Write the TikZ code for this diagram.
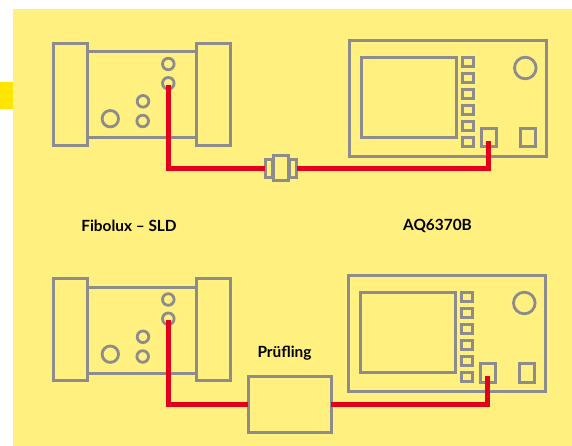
\documentclass[tikz,border=0pt]{standalone}
\usepackage{fontspec}
\usetikzlibrary{calc}
\setmainfont{Lato}
\definecolor{panelbg}{HTML}{FFF080}
\definecolor{tabcol}{HTML}{FFE600}
\definecolor{devgray}{HTML}{8C8C8C}
\definecolor{fibrered}{HTML}{E2001A}
\tikzset{
  devbox/.style={draw=devgray,line width=3pt,rectangle,inner sep=0pt,outer sep=0pt,minimum width=#1},
  knob/.style={draw=devgray,line width=2.8pt,circle,inner sep=0pt,outer sep=0pt,minimum size=#1},
  fibre/.style={draw=fibrered,line width=5pt,line join=miter},
  lbl/.style={font=\bfseries\fontsize{15.4}{17}\selectfont,text=black,inner sep=0pt}
}
\newcommand{\srcunit}[2]{%
 \begin{scope}[shift={(0,#2)}]
  \node[devbox=34pt,minimum height=102pt] (#1L) at (70,94.3) {};
  \node[devbox=34pt,minimum height=102pt] (#1R) at (213,94.3) {};
  \draw[draw=devgray,line width=3pt] (#1L.east |- 0,51.7) -- (#1R.west |- 0,51.7);
  \draw[draw=devgray,line width=3pt] (#1L.east |- 0,137.7) -- (#1R.west |- 0,137.7);
  \node[knob=11.6pt] (#1a) at (168.3,64) {};
  \node[knob=11.6pt] (#1b) at (168.3,83.3) {};
  \node[knob=11.6pt] (#1c) at (143,101.3) {};
  \node[knob=11.6pt] (#1d) at (142.7,121) {};
  \node[knob=16.4pt] (#1e) at (110.3,118.7) {};
 \end{scope}}
\newcommand{\osa}[3]{%
 \begin{scope}[shift={(#2,#3)}]
  \node[devbox=196.8pt,minimum height=115.6pt] (#1body) at (448,98.5) {};
  \node[devbox=95pt,minimum height=80.4pt] (#1scr) at (408.8,97.5) {};
  \foreach \yy/\nn in {62/1,78/2,94/3,110/4,126/5,142/6}
    \node[devbox=10.8pt,minimum height=9.8pt] (#1k\nn) at (468.3,\yy) {};
  \node[devbox=15.2pt,minimum height=18.4pt] (#1port) at (488.8,137.8) {};
  \node[devbox=15.4pt,minimum height=18.4pt] (#1aux) at (527.7,137.8) {};
  \node[knob=21.6pt] (#1dial) at (525.3,68) {};
  \coordinate (#1in) at (488.7,140.7);
 \end{scope}}
\begin{document}
\begin{tikzpicture}[x=1pt,y=-1pt]
\useasboundingbox (0,0) rectangle (572,446);
\fill[white] (0,0) rectangle (572,446);
\fill[panelbg] (13,9) rectangle (572,446);
\fill[tabcol] (0,82) rectangle (13,109);
% top row
\srcunit{s}{0}
\osa{o}{0}{0}
\node[devbox=7.4pt,minimum height=18.4pt] (cl) at (269,168.5) {};
\node[devbox=7.4pt,minimum height=18.4pt] (cr) at (293,168.5) {};
\node[devbox=15.6pt,minimum height=25pt,fill=panelbg] (cm) at (281,168.5) {};
\coordinate (sout) at ($(sb)+(0,1.4)$);
\draw[fibre] (sout) |- (cl.west);
\draw[fibre] (cr.east) -| (oin);
% labels
\node[lbl] (t1) at (129,225.5) {Fibolux – SLD};
\node[lbl] (t2) at (437.5,225.5) {AQ6370B};
% bottom row
\srcunit{u}{235.5}
\osa{p}{-1}{235}
\node[devbox=83pt,minimum height=56.4pt] (dut) at (289.5,404.5) {};
\node[lbl] (t3) at (284.5,353) {Prüfling};
\coordinate (uout) at ($(ub)+(0,1.4)$);
\draw[fibre] (uout) |- (dut.west);
\draw[fibre] (dut.east) -| (pin);
\end{tikzpicture}
\end{document}
